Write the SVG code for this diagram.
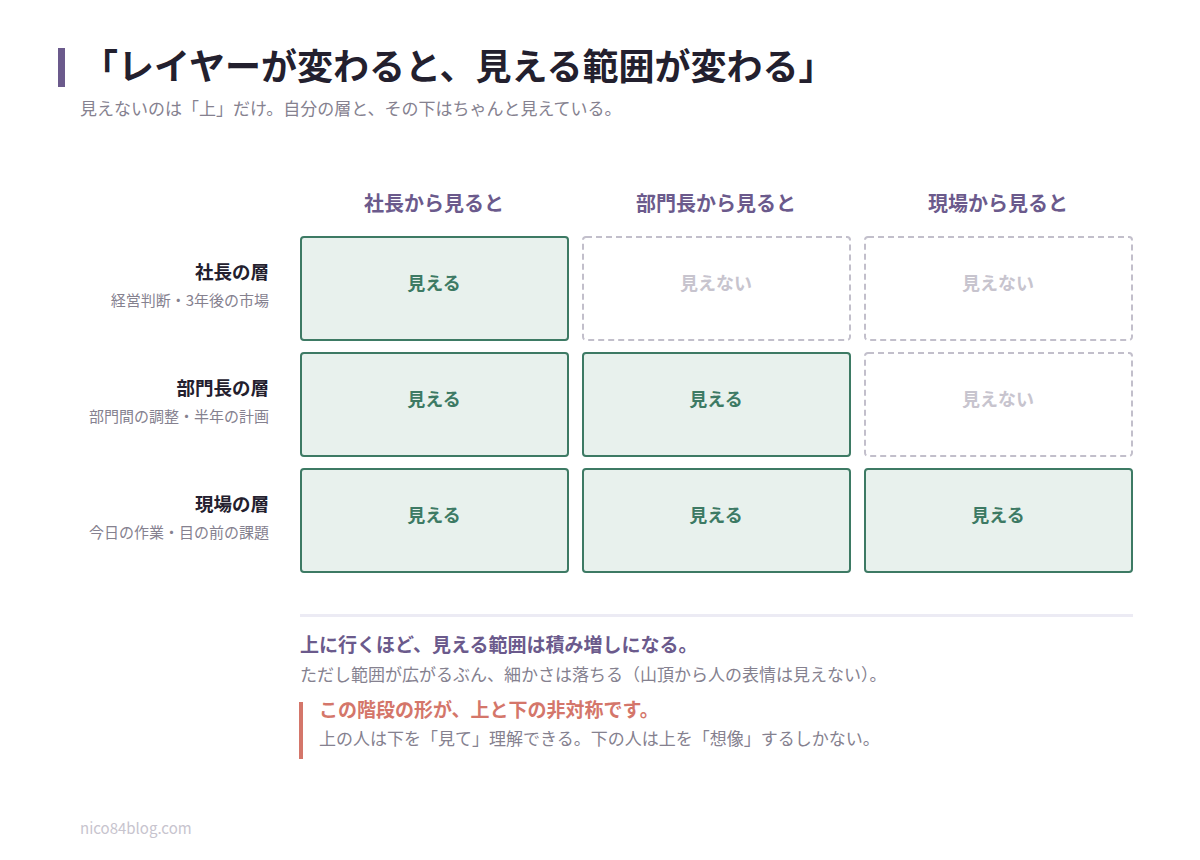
<svg xmlns="http://www.w3.org/2000/svg" width="1200" height="860" viewBox="0 0 1200 860">
<style>
text{font-family:"Noto Sans CJK JP","Noto Sans",sans-serif}
.ttl{font-size:36px;font-weight:700;fill:#23202e}
.sub{font-size:17px;fill:#85818f}
.col{font-size:20px;font-weight:700;fill:#6b5a8c;text-anchor:middle}
.rl{font-size:18.5px;font-weight:700;fill:#23202e;text-anchor:end}
.rs{font-size:15px;fill:#85818f;text-anchor:end}
.on rect{fill:#e8f1ed;stroke:#3d7a64;stroke-width:2}
.on text{font-size:18px;font-weight:700;fill:#3d7a64;text-anchor:middle}
.off rect{fill:#fff;stroke:#c2bfcb;stroke-width:2;stroke-dasharray:6 4}
.off text{font-size:18px;font-weight:700;fill:#c7c4ce;text-anchor:middle}
</style>
<rect width="1200" height="860" fill="#fff"/>
<g id="header">
<rect x="58" y="48" width="7" height="39" fill="#6b5a8c"/>
<text class="ttl" x="82" y="80">「レイヤーが変わると、見える範囲が変わる」</text>
<text class="sub" x="80" y="115">見えないのは「上」だけ。自分の層と、その下はちゃんと見えている。</text>
</g>
<g id="columns">
<text class="col" x="434" y="211">社長から見ると</text>
<text class="col" x="716" y="211">部門長から見ると</text>
<text class="col" x="998" y="211">現場から見ると</text>
</g>
<g id="rows">
<text class="rl" x="269" y="279">社長の層</text>
<text class="rs" x="269" y="306">経営判断・3年後の市場</text>
<text class="rl" x="269" y="395">部門長の層</text>
<text class="rs" x="269" y="422">部門間の調整・半年の計画</text>
<text class="rl" x="269" y="511">現場の層</text>
<text class="rs" x="269" y="538">今日の作業・目の前の課題</text>
</g>
<g id="cell-1-1" class="on"><rect x="301" y="237" width="267" height="103" rx="3"/><text x="434" y="290">見える</text></g>
<g id="cell-1-2" class="off"><rect x="583" y="237" width="267" height="103" rx="3"/><text x="716" y="290">見えない</text></g>
<g id="cell-1-3" class="off"><rect x="865" y="237" width="267" height="103" rx="3"/><text x="998" y="290">見えない</text></g>
<g id="cell-2-1" class="on"><rect x="301" y="353" width="267" height="103" rx="3"/><text x="434" y="406">見える</text></g>
<g id="cell-2-2" class="on"><rect x="583" y="353" width="267" height="103" rx="3"/><text x="716" y="406">見える</text></g>
<g id="cell-2-3" class="off"><rect x="865" y="353" width="267" height="103" rx="3"/><text x="998" y="406">見えない</text></g>
<g id="cell-3-1" class="on"><rect x="301" y="469" width="267" height="103" rx="3"/><text x="434" y="522">見える</text></g>
<g id="cell-3-2" class="on"><rect x="583" y="469" width="267" height="103" rx="3"/><text x="716" y="522">見える</text></g>
<g id="cell-3-3" class="on"><rect x="865" y="469" width="267" height="103" rx="3"/><text x="998" y="522">見える</text></g>
<g id="connectors"></g>
<g id="notes">
<rect x="300" y="614" width="833" height="3" fill="#ecebf4"/>
<text x="300" y="652" font-size="19" font-weight="700" fill="#6b5a8c">上に行くほど、見える範囲は積み増しになる。</text>
<text x="300" y="681" font-size="17" fill="#85818f">ただし範囲が広がるぶん、細かさは落ちる（山頂から人の表情は見えない）。</text>
<rect x="299" y="702" width="4" height="57" fill="#d4766a"/>
<text x="319" y="717" font-size="19" font-weight="700" fill="#d4766a">この階段の形が、上と下の非対称です。</text>
<text x="319" y="745" font-size="17" fill="#85818f">上の人は下を「見て」理解できる。下の人は上を「想像」するしかない。</text>
<text x="80" y="834" font-size="15" fill="#c7c4ce" font-family="Liberation Sans,sans-serif">nico84blog.com</text>
</g>
</svg>
